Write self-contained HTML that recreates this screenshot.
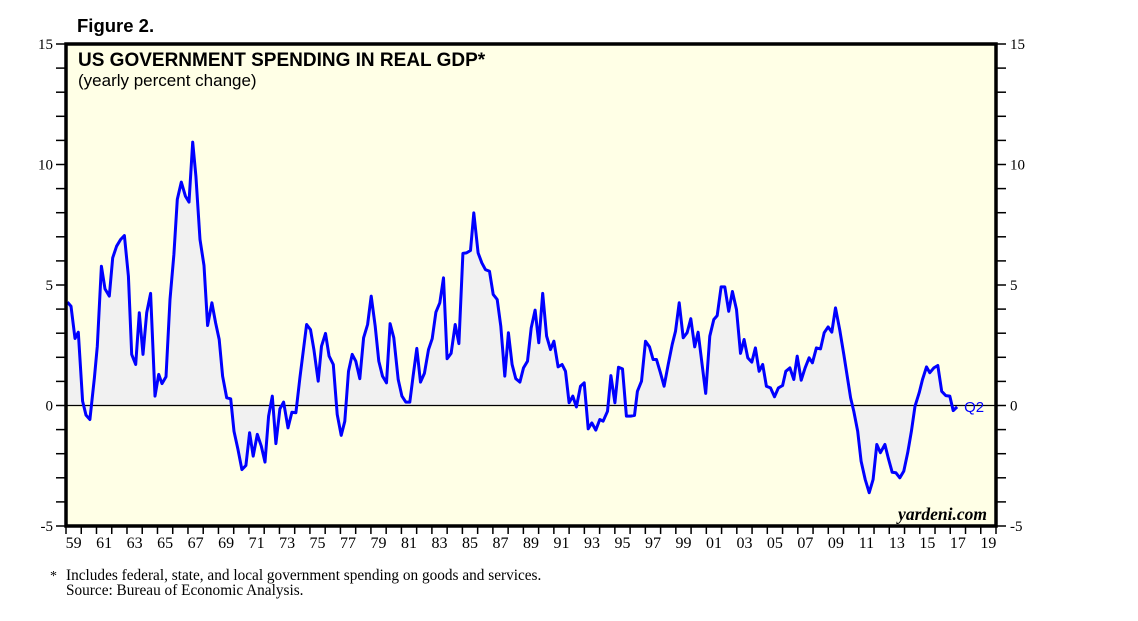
<!DOCTYPE html>
<html><head><meta charset="utf-8">
<style>
html,body{margin:0;padding:0;background:#fff;}
svg{display:block;}
.tick{font-family:"Liberation Serif",serif;font-size:15px;fill:#000;}
.xt{font-family:"Liberation Serif",serif;font-size:16px;fill:#000;}
</style></head>
<body>
<svg id="chart" width="1138" height="621" xmlns="http://www.w3.org/2000/svg">
<text x="77" y="32" font-family="Liberation Sans, sans-serif" font-weight="bold" font-size="18.5">Figure 2.</text>
<rect x="66" y="44" width="930" height="482" fill="#ffffe6"/>
<g id="fill-g"></g>
<line id="zero" x1="66" x2="996" stroke="#000" stroke-width="1.2"/>
<g id="line-g"></g>
<rect x="66" y="44" width="930" height="482" fill="none" stroke="#000" stroke-width="3.5"/>
<g id="axes-g"></g>
<text x="78" y="66" font-family="Liberation Sans, sans-serif" font-weight="bold" font-size="19">US GOVERNMENT SPENDING IN REAL GDP*</text>
<text x="78" y="86" font-family="Liberation Sans, sans-serif" font-size="17">(yearly percent change)</text>
<text x="987" y="520" text-anchor="end" font-family="Liberation Serif, serif" font-style="italic" font-weight="bold" font-size="17.5">yardeni.com</text>
<text x="50" y="580" font-family="Liberation Serif, serif" font-size="14">*</text>
<text x="66" y="580" font-family="Liberation Serif, serif" font-size="15.3">Includes federal, state, and local government spending on goods and services.</text>
<text x="66" y="595" font-family="Liberation Serif, serif" font-size="15.3">Source: Bureau of Economic Analysis.</text>
</svg>
<script>
const dates=[1959.09,1959.33,1959.59,1959.81,1960.09,1960.31,1960.57,1960.86,1961.05,1961.32,1961.56,1961.84,1962.06,1962.32,1962.58,1962.83,1963.09,1963.31,1963.57,1963.81,1964.05,1964.29,1964.55,1964.84,1965.08,1965.30,1965.56,1965.82,1966.08,1966.30,1966.56,1966.83,1967.07,1967.31,1967.52,1967.79,1968.05,1968.29,1968.57,1968.81,1969.05,1969.27,1969.54,1969.80,1970.02,1970.28,1970.54,1970.80,1971.04,1971.28,1971.55,1971.81,1972.05,1972.29,1972.53,1972.77,1973.03,1973.27,1973.56,1973.82,1974.08,1974.34,1974.78,1975.04,1975.26,1975.54,1975.76,1976.02,1976.26,1976.53,1976.79,1977.05,1977.29,1977.53,1977.77,1978.01,1978.27,1978.52,1978.78,1979.02,1979.28,1979.52,1979.76,1980.02,1980.26,1980.50,1980.79,1981.03,1981.29,1981.55,1981.77,1982.01,1982.25,1982.51,1982.78,1983.02,1983.26,1983.52,1983.76,1984.00,1984.26,1984.53,1984.77,1985.03,1985.27,1985.53,1985.75,1986.03,1986.27,1986.51,1986.78,1987.02,1987.28,1987.52,1987.78,1988.02,1988.26,1988.50,1988.77,1989.01,1989.27,1989.51,1989.77,1990.01,1990.27,1990.52,1990.78,1991.00,1991.28,1991.54,1991.76,1992.00,1992.24,1992.48,1992.75,1992.99,1993.25,1993.49,1993.75,1994.01,1994.23,1994.52,1994.74,1995.00,1995.24,1995.50,1995.76,1996.03,1996.29,1996.48,1996.75,1997.01,1997.27,1997.51,1997.73,1997.99,1998.23,1998.50,1998.76,1998.98,1999.22,1999.48,1999.74,1999.98,2000.24,2000.46,2000.72,2000.96,2001.23,2001.49,2001.71,2001.97,2002.21,2002.47,2002.71,2002.98,2003.24,2003.48,2003.72,2003.98,2004.22,2004.46,2004.70,2004.94,2005.21,2005.47,2005.73,2006.00,2006.21,2006.48,2006.74,2006.96,2007.22,2007.48,2007.74,2007.96,2008.22,2008.49,2008.73,2008.99,2009.23,2009.47,2009.75,2010.02,2010.24,2010.46,2010.67,2010.93,2011.15,2011.42,2011.68,2011.94,2012.18,2012.42,2012.71,2012.93,2013.19,2013.43,2013.69,2013.95,2014.21,2014.45,2014.69,2014.96,2015.18,2015.44,2015.66,2015.92,2016.18,2016.44,2016.71,2016.97,2017.19,2017.45];
const values=[4.29,4.12,2.78,3.04,0.18,-0.40,-0.58,1.15,2.46,5.78,4.84,4.54,6.13,6.61,6.89,7.05,5.37,2.12,1.70,3.85,2.12,3.85,4.65,0.39,1.29,0.91,1.19,4.40,6.27,8.55,9.27,8.69,8.44,10.93,9.52,6.89,5.81,3.32,4.26,3.43,2.74,1.22,0.32,0.28,-1.07,-1.83,-2.66,-2.49,-1.13,-2.10,-1.20,-1.69,-2.35,-0.44,0.39,-1.58,-0.14,0.14,-0.93,-0.28,-0.30,1.15,3.36,3.15,2.32,1.01,2.46,2.99,2.05,1.70,-0.37,-1.24,-0.65,1.42,2.12,1.84,1.11,2.81,3.36,4.54,3.29,1.84,1.22,0.94,3.40,2.81,1.08,0.39,0.14,0.14,1.22,2.37,0.97,1.33,2.32,2.77,3.87,4.26,5.30,1.94,2.16,3.36,2.57,6.31,6.33,6.43,7.99,6.33,5.92,5.64,5.57,4.61,4.40,3.29,1.22,3.02,1.70,1.11,0.97,1.56,1.84,3.22,3.96,2.60,4.65,2.88,2.32,2.67,1.60,1.70,1.42,0.11,0.39,-0.06,0.80,0.94,-0.97,-0.72,-1.02,-0.58,-0.65,-0.24,1.24,0.11,1.59,1.52,-0.44,-0.44,-0.41,0.59,1.01,2.67,2.43,1.91,1.91,1.36,0.80,1.70,2.53,3.08,4.26,2.81,3.02,3.60,2.43,3.04,1.70,0.50,2.88,3.57,3.73,4.92,4.92,3.91,4.73,3.98,2.16,2.74,1.98,1.80,2.39,1.42,1.70,0.80,0.73,0.36,0.73,0.83,1.42,1.56,1.08,2.05,1.05,1.56,1.98,1.77,2.39,2.35,3.02,3.26,3.04,4.05,3.15,2.12,1.22,0.32,-0.24,-1.07,-2.31,-3.07,-3.62,-3.07,-1.62,-1.96,-1.62,-2.17,-2.77,-2.79,-3.00,-2.72,-1.96,-1.07,-0.03,0.53,1.08,1.60,1.36,1.56,1.66,0.59,0.41,0.39,-0.21,-0.06];
const yTicks=[-5,0,5,10,15];
const xLabels=["59","61","63","65","67","69","71","73","75","77","79","81","83","85","87","89","91","93","95","97","99","01","03","05","07","09","11","13","15","17","19"];
const lastLabel="Q2";

const X0=66,X1=996,Y0=44,Y1=526,T0=1959,T1=2020,V0=-5,V1=15;
function xs(t){return X0+(t-T0)/(T1-T0)*(X1-X0);}
function ys(v){return Y1-(v-V0)/(V1-V0)*(Y1-Y0);}
const NS="http://www.w3.org/2000/svg";
function mk(tag,attrs,parent){const e=document.createElementNS(NS,tag);for(const k in attrs)e.setAttribute(k,attrs[k]);parent.appendChild(e);return e;}

const z=document.getElementById('zero');z.setAttribute('y1',ys(0));z.setAttribute('y2',ys(0));

let pts=dates.map((d,i)=>xs(d).toFixed(1)+','+ys(values[i]).toFixed(1));
const fillD='M'+xs(dates[0]).toFixed(1)+','+ys(0)+' L'+pts.join(' L')+' L'+xs(dates[dates.length-1]).toFixed(1)+','+ys(0)+' Z';
const fp=mk('path',{d:fillD,fill:'#f1f1f1',stroke:'none'},document.getElementById('fill-g'));


const lp=mk('polyline',{points:pts.join(' '),fill:'none',stroke:'#0000ff','stroke-width':3,'stroke-linejoin':'round'},document.getElementById('line-g'));


const ql=mk('text',{x:xs(dates[dates.length-1])+7,y:ys(values[values.length-1])+5,fill:'#0000ff','font-family':'Liberation Sans, sans-serif','font-size':15},document.getElementById('line-g'));
ql.textContent=lastLabel;



const ax=document.getElementById('axes-g');
for(let v=V0;v<=V1;v++){
  const y=ys(v);
  const t1=mk('line',{x1:56,x2:66,y1:y,y2:y,stroke:'#000','stroke-width':1.5},ax);
  
  
  const t2=mk('line',{x1:996,x2:1006,y1:y,y2:y,stroke:'#000','stroke-width':1.5},ax);
  
  
}
yTicks.forEach(v=>{
  const y=ys(v)+5;
  const a=mk('text',{x:53,y:y,'text-anchor':'end','class':'tick'},ax);a.textContent=v;
  
  
  const b=mk('text',{x:1010,y:y,'class':'tick'},ax);b.textContent=v;
  
  
});
for(let t=T0;t<=T1;t++){
  const l=mk('line',{x1:xs(t),x2:xs(t),y1:526,y2:534,stroke:'#000','stroke-width':1.5},ax);
  
  
}
xLabels.forEach((s,i)=>{
  const t=T0+2*i+0.5;
  const e=mk('text',{x:xs(t),y:548,'text-anchor':'middle','class':'xt'},ax);e.textContent=s;
  
  
});
</script>
</body></html>
